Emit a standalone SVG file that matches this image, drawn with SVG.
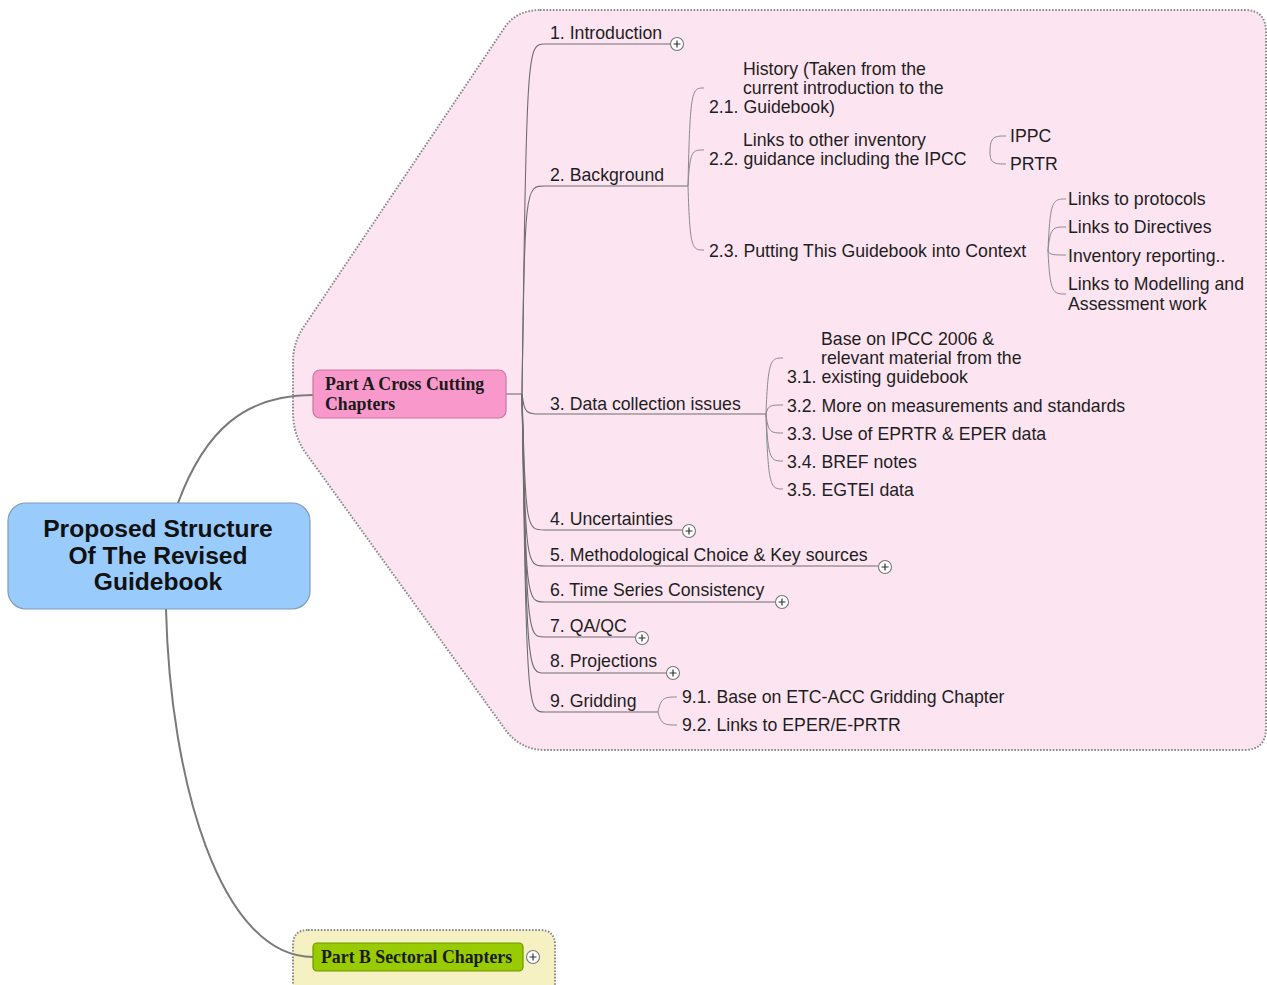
<svg xmlns="http://www.w3.org/2000/svg" width="1267" height="985" viewBox="0 0 1267 985">
<defs>
<style>
.bnd{stroke:#8a8a8a;stroke-width:2;stroke-dasharray:1.6 1.6;}
.t{font-family:"Liberation Sans",Arial,sans-serif;font-size:17.7px;fill:#1e1e1e;}
.root{font-family:"Liberation Sans",Arial,sans-serif;font-size:24.6px;font-weight:bold;fill:#111;text-anchor:middle;}
.mt{font-family:"Liberation Serif","Times New Roman",serif;font-size:17.8px;font-weight:bold;fill:#1a1a1a;}
.c{fill:none;stroke:#6e6e6e;stroke-width:1.1;}
.c2{fill:none;stroke:#8a8a8a;stroke-width:1;}
.main{fill:none;stroke:#7a7a7a;stroke-width:2;}
.pc{fill:#fff;stroke:#777;stroke-width:1.1;}
.pl{stroke:#333;stroke-width:1.2;}
</style>
<g id="plus">
<circle class="pc" cx="0" cy="0" r="6.5"/>
<path class="pl" d="M-3.5 0H3.5M0 -3.5V3.5"/>
</g>
</defs>
<rect width="1267" height="985" fill="#fff"/>

<!-- boundaries -->
<path id="boundaryA" class="bnd" fill="#fde4f1" d="M540 10 L1245 10 Q1266 10 1266 32 L1266 728 Q1266 750 1244 750 L545 750 Q522 750 507 732 L305 452 Q293 434 293 412 L293 362 Q293 343 303 328 L505 27 Q517 10 540 10 Z"/>
<path id="boundaryB" class="bnd" fill="#f6f1c2" d="M308 930 L540 930 Q555 930 555 945 L555 990 L293 990 L293 945 Q293 930 308 930 Z"/>

<g id="connectors">
<path class="main" d="M178 503 C205 430 245 395 313 395"/>
<path class="main" d="M166 609 C170 780 220 957 313 957"/>
<path class="c" d="M506 394 L522 394"/>
<path class="c" d="M522 394 C527 44 527 44 545 44 L671 44"/>
<path class="c" d="M522 394 C525 186 525 186 545 186 L688 186"/>
<path class="c" d="M522 394 C525 414 525 414 545 414 L766 414"/>
<path class="c" d="M522 394 C526 530 526 530 545 530 L682 530"/>
<path class="c" d="M522 394 C526 566 526 566 545 566 L878 566"/>
<path class="c" d="M522 394 C526 602 526 602 545 602 L776 602"/>
<path class="c" d="M522 394 C527 637 527 637 545 637 L636 637"/>
<path class="c" d="M522 394 C527 673 527 673 545 673 L666 673"/>
<path class="c" d="M522 394 C527 712 527 712 545 712 L658 712"/>
<!-- 2.x -->
<path class="c2" d="M688 186 C690 88 692 88 704 88"/>
<path class="c2" d="M688 186 C690 150 692 150 704 150"/>
<path class="c2" d="M688 186 C690 250 692 250 704 250"/>
<!-- 2.2.x -->
<path class="c2" d="M990 152 C990 136 995 136 1006 136"/>
<path class="c2" d="M990 152 C990 164 995 164 1006 164"/>
<!-- 2.3.x -->
<path class="c2" d="M1048 251 C1050 199 1053 199 1066 199"/>
<path class="c2" d="M1048 251 C1050 227 1053 227 1066 227"/>
<path class="c2" d="M1048 251 C1050 255 1053 255 1066 255"/>
<path class="c2" d="M1048 251 C1050 294 1053 294 1066 294"/>
<!-- 3.x -->
<path class="c2" d="M766 414 C768 358 771 358 783 358"/>
<path class="c2" d="M766 414 C768 405 771 405 783 405"/>
<path class="c2" d="M766 414 C768 433 771 433 783 433"/>
<path class="c2" d="M766 414 C768 461 771 461 783 461"/>
<path class="c2" d="M766 414 C768 489 771 489 783 489"/>
<!-- 9.x -->
<path class="c2" d="M658 712 C661 697 665 697 677 697"/>
<path class="c2" d="M658 712 C661 725 665 725 677 725"/>
</g>

<g id="root">
<rect x="8" y="503" width="302" height="106" rx="18" fill="#99ccfc" stroke="#7f9cb8" stroke-width="1.2"/>
<text class="root" x="158" y="537">Proposed Structure</text>
<text class="root" x="158" y="564">Of The Revised</text>
<text class="root" x="158" y="590">Guidebook</text>
</g>

<g id="partA">
<rect x="313" y="370" width="193" height="48" rx="7" fill="#f999cb" stroke="#c9779f" stroke-width="1.2"/>
<text class="mt" x="325" y="390">Part A Cross Cutting</text>
<text class="mt" x="325" y="410">Chapters</text>
</g>

<g id="partB">
<rect x="313" y="943" width="210" height="28" rx="4" fill="#99cc00" stroke="#6f9400" stroke-width="1.2"/>
<text class="mt" x="321" y="963">Part B Sectoral Chapters</text>
<use href="#plus" x="533" y="957"/>
</g>

<g id="n1"><text class="t" x="550" y="39">1. Introduction</text><use href="#plus" x="677" y="44"/></g>
<g id="n2"><text class="t" x="550" y="181">2. Background</text></g>
<g id="n2-1">
<text class="t" x="743" y="75">History (Taken from the</text>
<text class="t" x="743" y="94">current introduction to the</text>
<text class="t" x="709" y="113">2.1. Guidebook)</text>
</g>
<g id="n2-2">
<text class="t" x="743" y="146">Links to other inventory</text>
<text class="t" x="709" y="165">2.2. guidance including the IPCC</text>
</g>
<g id="n2-2-1"><text class="t" x="1010" y="142">IPPC</text></g>
<g id="n2-2-2"><text class="t" x="1010" y="170">PRTR</text></g>
<g id="n2-3"><text class="t" x="709" y="257">2.3. Putting This Guidebook into Context</text></g>
<g id="n2-3-1"><text class="t" x="1068" y="205">Links to protocols</text></g>
<g id="n2-3-2"><text class="t" x="1068" y="233">Links to Directives</text></g>
<g id="n2-3-3"><text class="t" x="1068" y="262">Inventory reporting..</text></g>
<g id="n2-3-4">
<text class="t" x="1068" y="290">Links to Modelling and</text>
<text class="t" x="1068" y="310">Assessment work</text>
</g>
<g id="n3"><text class="t" x="550" y="410">3. Data collection issues</text></g>
<g id="n3-1">
<text class="t" x="821" y="345">Base on IPCC 2006 &amp;</text>
<text class="t" x="821" y="364">relevant material from the</text>
<text class="t" x="787" y="383">3.1. existing guidebook</text>
</g>
<g id="n3-2"><text class="t" x="787" y="412">3.2. More on measurements and standards</text></g>
<g id="n3-3"><text class="t" x="787" y="440">3.3. Use of EPRTR &amp; EPER data</text></g>
<g id="n3-4"><text class="t" x="787" y="468">3.4. BREF notes</text></g>
<g id="n3-5"><text class="t" x="787" y="496">3.5. EGTEI data</text></g>
<g id="n4"><text class="t" x="550" y="525">4. Uncertainties</text><use href="#plus" x="689" y="531"/></g>
<g id="n5"><text class="t" x="550" y="561">5. Methodological Choice &amp; Key sources</text><use href="#plus" x="885" y="567"/></g>
<g id="n6"><text class="t" x="550" y="596">6. Time Series Consistency</text><use href="#plus" x="782" y="602"/></g>
<g id="n7"><text class="t" x="550" y="632">7. QA/QC</text><use href="#plus" x="642" y="638"/></g>
<g id="n8"><text class="t" x="550" y="667">8. Projections</text><use href="#plus" x="673" y="673"/></g>
<g id="n9"><text class="t" x="550" y="707">9. Gridding</text></g>
<g id="n9-1"><text class="t" x="682" y="703">9.1. Base on ETC-ACC Gridding Chapter</text></g>
<g id="n9-2"><text class="t" x="682" y="731">9.2. Links to EPER/E-PRTR</text></g>
</svg>
